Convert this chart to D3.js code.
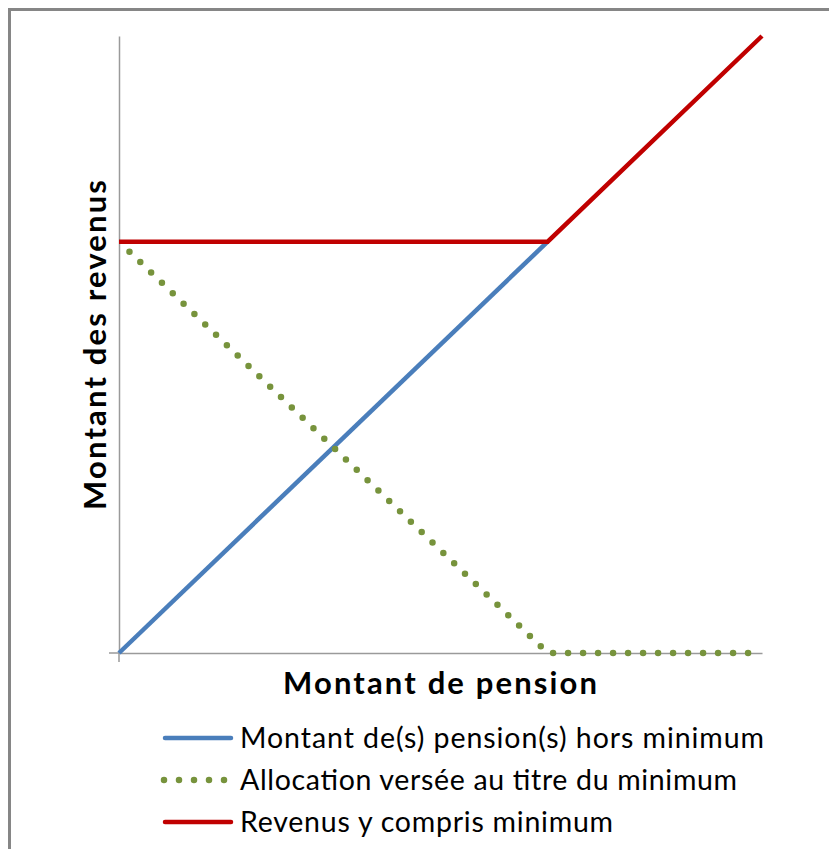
<!DOCTYPE html>
<html lang="fr">
<head>
<meta charset="utf-8">
<title>Minimum de pension</title>
<script src="https://d3js.org/d3.v7.min.js"></script>
<style>
  body { margin: 0; background: #fff; font-family: Lato, "Open Sans", sans-serif; }
  svg { display: block; }
</style>
</head>
<body>
<div id="chart"></div>
<script>
// schematic data: pension amount on x, income on y (arbitrary units, minimum = 2)
var pensionX   = [0, 2, 3];
var pensionHors = [0, 2];        // blue, stops at the minimum
var allocation = [2, 0, 0];      // green dotted
var revenus    = [2, 2, 3];      // red

var seriesNames = [
  "Montant de(s) pension(s) hors minimum",
  "Allocation versée au titre du minimum",
  "Revenus y compris minimum"
];
var seriesColors = ["#4a7ebb", "#77933c", "#c00000"];
var xTitle = "Montant de pension";
var yTitle = "Montant des revenus";

var W = 829, H = 849;
var margin = {left: 119, right: 67, top: 36, bottom: 196};

var svg = d3.select("#chart").append("svg")
  .attr("width", W)
  .attr("height", H);

svg.append("rect")
  .attr("width", W).attr("height", H).attr("fill", "#fff");

// outer frame, runs off the right and bottom edges like the screenshot
svg.append("rect")
  .attr("x", 9.5).attr("y", 9.5)
  .attr("width", W + 20).attr("height", H + 20)
  .attr("fill", "none")
  .attr("stroke", "#868686")
  .attr("stroke-width", 3);

var x = d3.scaleLinear().domain([0, 3]).range([margin.left, W - margin.right]);
var y = d3.scaleLinear().domain([0, 3]).range([H - margin.bottom, margin.top]);

// axes (no labels, Excel style cross ticks at origin)
var g = svg.append("g");
g.append("g")
  .attr("transform", "translate(0," + y(0) + ")")
  .call(d3.axisBottom(x).tickValues([]).tickSizeOuter(0))
  .call(function(a){ a.select(".domain").attr("stroke", "#9a9a9a").attr("stroke-width", 1.5); });
g.append("g")
  .attr("transform", "translate(" + x(0) + ",0)")
  .call(d3.axisLeft(y).tickValues([]).tickSizeOuter(0))
  .call(function(a){ a.select(".domain").attr("stroke", "#9a9a9a").attr("stroke-width", 1.5); });
// small cross ticks at the origin
g.append("line")
  .attr("x1", x(0) - 10).attr("x2", x(0))
  .attr("y1", y(0)).attr("y2", y(0))
  .attr("stroke", "#9a9a9a").attr("stroke-width", 1.5);
g.append("line")
  .attr("x1", x(0)).attr("x2", x(0))
  .attr("y1", y(0)).attr("y2", y(0) + 9)
  .attr("stroke", "#9a9a9a").attr("stroke-width", 1.5);

var line = d3.line()
  .x(function(d){ return x(d[0]); })
  .y(function(d){ return y(d[1]); });

var blueData  = pensionHors.map(function(v, i){ return [pensionX[i], v]; });
var greenData = allocation.map(function(v, i){ return [pensionX[i], v]; });
var redData   = revenus.map(function(v, i){ return [pensionX[i], v]; });

svg.append("path")
  .attr("d", line(blueData))
  .attr("fill", "none")
  .attr("stroke", seriesColors[0])
  .attr("stroke-width", 4.5);

svg.append("path")
  .attr("d", line(greenData))
  .attr("fill", "none")
  .attr("stroke", seriesColors[1])
  .attr("stroke-width", 6.5)
  .attr("stroke-linecap", "round")
  .attr("stroke-dasharray", "0 15")
  .attr("stroke-dashoffset", -14.5);

svg.append("path")
  .attr("d", line(redData))
  .attr("fill", "none")
  .attr("stroke", seriesColors[2])
  .attr("stroke-width", 4.5);

// axis titles (stretched to the width of the original Calibri text)
svg.append("text")
  .attr("x", 440).attr("y", 694)
  .attr("text-anchor", "middle")
  .attr("font-weight", "bold")
  .attr("font-size", 31)
  .attr("textLength", 314)
  .attr("lengthAdjust", "spacing")
  .attr("fill", "#000")
  .text(xTitle);

svg.append("text")
  .attr("transform", "translate(106,345) rotate(-90)")
  .attr("text-anchor", "middle")
  .attr("font-weight", "bold")
  .attr("font-size", 31)
  .attr("textLength", 330)
  .attr("lengthAdjust", "spacing")
  .attr("fill", "#000")
  .text(yTitle);

// legend
var legY = [738, 780, 822];
var legW = [524, 497, 373];
var leg = svg.append("g");
seriesNames.forEach(function(name, i){
  var row = leg.append("g").attr("transform", "translate(0," + legY[i] + ")");
  var sample = row.append("line")
    .attr("x1", 165).attr("x2", 231)
    .attr("stroke", seriesColors[i])
    .attr("stroke-width", 4.5);
  if (i === 1) {
    sample.attr("x1", 161).attr("x2", 236)
      .attr("stroke-width", 6.5)
      .attr("stroke-linecap", "round")
      .attr("stroke-dasharray", "0 15")
      .attr("stroke-dashoffset", -3);
  } else {
    sample.attr("stroke-linecap", "round");
  }
  row.append("text")
    .attr("x", 240).attr("y", 10)
    .attr("font-size", 28.5)
    .attr("textLength", legW[i])
    .attr("lengthAdjust", "spacing")
    .attr("fill", "#000")
    .text(name);
});
</script>
</body>
</html>
